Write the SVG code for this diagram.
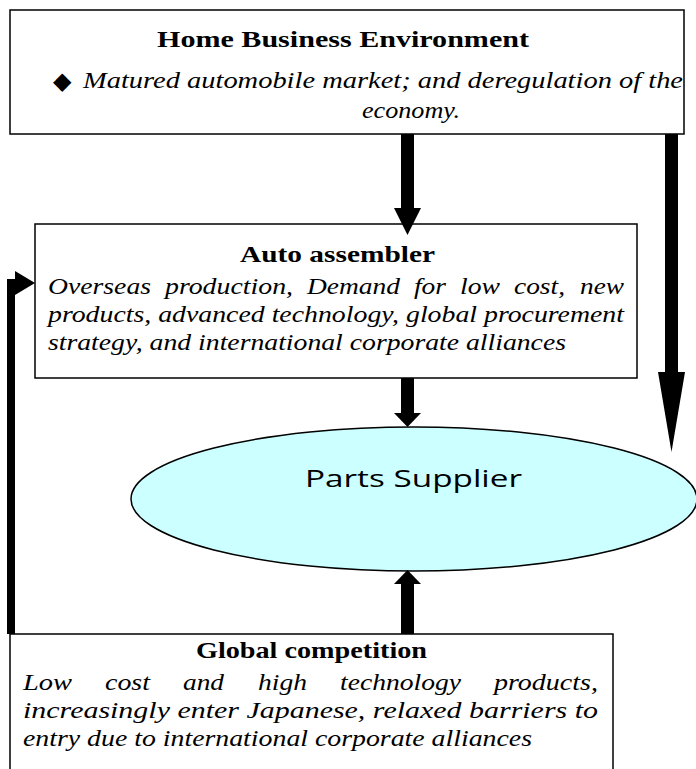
<svg xmlns="http://www.w3.org/2000/svg" width="696" height="769" viewBox="0 0 696 769">
<style>
.box{fill:#fff;stroke:#000;stroke-width:1.5}
.ttl{font-family:"Liberation Serif","Times New Roman",serif;font-weight:bold;font-size:24px;fill:#000}
.it{font-family:"Liberation Serif","Times New Roman",serif;font-style:italic;font-size:23px;fill:#000}
.sans{font-family:"Open Sans","DejaVu Sans",sans-serif;font-size:23px;fill:#000}
.ar{fill:#000;stroke:none}
</style>
<rect x="0" y="0" width="696" height="769" fill="#fff"/>
<g id="home">
<rect class="box" x="10" y="10" width="674" height="124"/>
<text class="ttl" x="157" y="47" textLength="372" lengthAdjust="spacingAndGlyphs">Home Business Environment</text>
<text x="53" y="89" style="font-family:'DejaVu Sans',sans-serif;font-size:24px">◆</text>
<text class="it" x="83" y="88" textLength="600" lengthAdjust="spacingAndGlyphs">Matured automobile market; and deregulation of the</text>
<text class="it" x="362" y="118" textLength="98" lengthAdjust="spacingAndGlyphs">economy.</text>
</g>
<g id="assembler">
<rect class="box" x="35" y="224" width="602" height="154"/>
<text class="ttl" x="240" y="262" textLength="195" lengthAdjust="spacingAndGlyphs">Auto assembler</text>
<g class="it">
<text x="48" y="294" textLength="103" lengthAdjust="spacingAndGlyphs">Overseas</text>
<text x="165" y="294" textLength="128" lengthAdjust="spacingAndGlyphs">production,</text>
<text x="307" y="294" textLength="93" lengthAdjust="spacingAndGlyphs">Demand</text>
<text x="414" y="294" textLength="32" lengthAdjust="spacingAndGlyphs">for</text>
<text x="460" y="294" textLength="40" lengthAdjust="spacingAndGlyphs">low</text>
<text x="514" y="294" textLength="51" lengthAdjust="spacingAndGlyphs">cost,</text>
<text x="580" y="294" textLength="44" lengthAdjust="spacingAndGlyphs">new</text>
</g>
<text class="it" x="48" y="322" textLength="576" lengthAdjust="spacingAndGlyphs">products, advanced technology, global procurement</text>
<text class="it" x="48" y="350" textLength="518" lengthAdjust="spacingAndGlyphs">strategy, and international corporate alliances</text>
</g>
<g id="supplier">
<ellipse cx="414" cy="499" rx="283" ry="72" fill="#CCFFFF" stroke="#000" stroke-width="1.5"/>
<text class="sans" x="305" y="487" textLength="217" lengthAdjust="spacingAndGlyphs">Parts Supplier</text>
</g>
<g id="global">
<rect class="box" x="10" y="634" width="603" height="150"/>
<text class="ttl" x="196" y="658" textLength="231" lengthAdjust="spacingAndGlyphs">Global competition</text>
<g class="it">
<text x="23" y="690" textLength="49" lengthAdjust="spacingAndGlyphs">Low</text>
<text x="105" y="690" textLength="45" lengthAdjust="spacingAndGlyphs">cost</text>
<text x="183" y="690" textLength="41" lengthAdjust="spacingAndGlyphs">and</text>
<text x="258" y="690" textLength="49" lengthAdjust="spacingAndGlyphs">high</text>
<text x="340" y="690" textLength="121" lengthAdjust="spacingAndGlyphs">technology</text>
<text x="494" y="690" textLength="104" lengthAdjust="spacingAndGlyphs">products,</text>
</g>
<text class="it" x="23" y="718" textLength="575" lengthAdjust="spacingAndGlyphs">increasingly enter Japanese, relaxed barriers to</text>
<text class="it" x="23" y="746" textLength="509" lengthAdjust="spacingAndGlyphs">entry due to international corporate alliances</text>
</g>
<g id="connectors">
<rect class="ar" x="401" y="134" width="13" height="75"/>
<polygon class="ar" points="394,208 421,208 407.5,235"/>
<rect class="ar" x="401" y="378" width="13" height="36"/>
<polygon class="ar" points="394,413 421,413 407.5,427"/>
<rect class="ar" x="665" y="134" width="13" height="239"/>
<polygon class="ar" points="658,372 685,372 671.5,452"/>
<rect class="ar" x="401" y="583" width="13" height="51"/>
<polygon class="ar" points="394,584 421,584 407.5,570"/>
<rect class="ar" x="7" y="283" width="8" height="351"/>
<rect class="ar" x="7" y="279" width="10" height="8"/>
<polygon class="ar" points="15,271 15,295 35,283"/>
</g>
</svg>
